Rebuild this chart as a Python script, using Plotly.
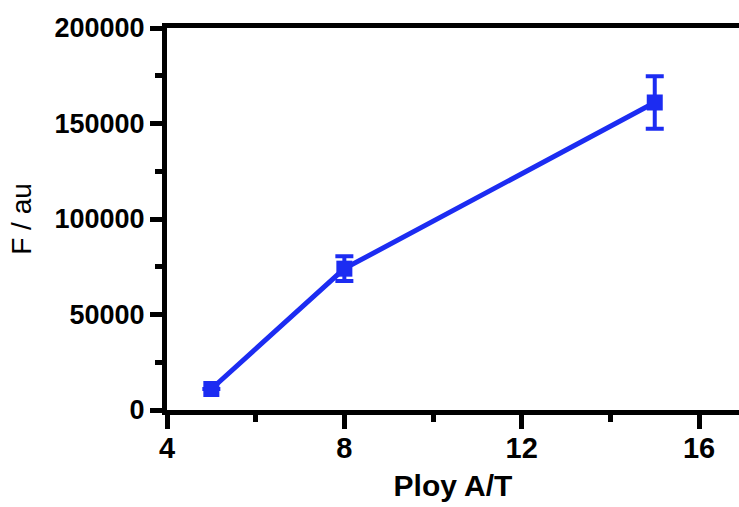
import plotly.graph_objects as go

x_vals = [5, 8, 15]
y_vals = [11000, 74000, 161000]
y_err = [0, 6500, 13700]

x_ticks = [4, 8, 12, 16]
y_ticks = [0, 50000, 100000, 150000, 200000]

blue = "rgb(28,44,242)"
font_family = "Liberation Sans, Arial, sans-serif"

fig = go.Figure()
fig.add_trace(go.Scatter(
    x=x_vals, y=y_vals,
    mode="lines+markers",
    line=dict(color=blue, width=5),
    marker=dict(symbol="square", size=16, color=blue),
    error_y=dict(type="data", array=y_err, visible=True, color=blue, thickness=4, width=9),
    showlegend=False,
))

fig.update_layout(
    width=739, height=507,
    margin=dict(l=167, r=0, t=28, b=97),
    paper_bgcolor="white", plot_bgcolor="white",
    font=dict(family=font_family, color="black"),
)

fig.update_xaxes(
    range=[4, 16.9],
    tickvals=x_ticks,
    ticktext=[f"<b>{v}</b>" for v in x_ticks],
    tickfont=dict(size=29),
    ticklabelstandoff=-6,
    showline=True, linecolor="black", linewidth=5, mirror=True,
    ticks="outside", ticklen=14, tickwidth=5, tickcolor="black",
    minor=dict(dtick=2, tick0=4, ticks="outside", ticklen=7, tickwidth=5, tickcolor="black"),
    showgrid=False, zeroline=False,
    title=dict(text="<b>Ploy A/T</b>", font=dict(size=30), standoff=14),
)

fig.update_yaxes(
    range=[0, 200000],
    tickvals=y_ticks,
    ticktext=[f"<b>{v}</b>" for v in y_ticks],
    tickfont=dict(size=27),
    showline=True, linecolor="black", linewidth=5,
    ticks="outside", ticklen=12, tickwidth=5, tickcolor="black",
    minor=dict(dtick=25000, tick0=0, ticks="outside", ticklen=7, tickwidth=5, tickcolor="black"),
    showgrid=False, zeroline=False,
    title=dict(text="F / au", font=dict(size=28), standoff=16),
)

fig.write_html("out.html")
